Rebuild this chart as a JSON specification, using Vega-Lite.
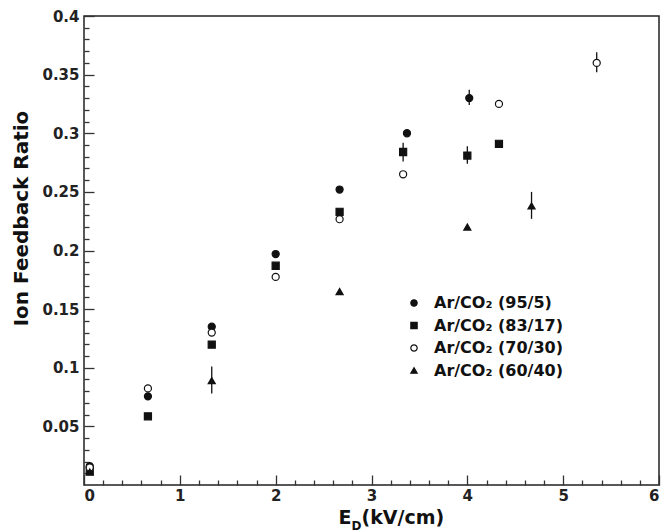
{
  "$schema": "https://vega.github.io/schema/vega-lite/v6.json",
  "width": 575,
  "height": 469,
  "autosize": {"type": "none"},
  "padding": {"left": 84, "top": 16, "right": 2, "bottom": 47},
  "background": "white",
  "config": {
    "view": {"stroke": "#222", "strokeWidth": 1.5},
    "font": "DejaVu Sans",
    "axis": {"grid": false, "domain": false, "tickColor": "#333", "tickWidth": 1.3, "labelColor": "#222", "titleColor": "#111", "labelFont": "DejaVu Sans", "titleFont": "DejaVu Sans", "labelFontWeight": "bold", "titleFontWeight": "bold"}
  },
  "data": {
    "values": [
      {"gas": "Ar/CO₂ (95/5)", "x": 0.06, "y": 0.016, "lo": null, "hi": null},
      {"gas": "Ar/CO₂ (95/5)", "x": 0.667, "y": 0.0756, "lo": null, "hi": null},
      {"gas": "Ar/CO₂ (95/5)", "x": 1.333, "y": 0.135, "lo": null, "hi": null},
      {"gas": "Ar/CO₂ (95/5)", "x": 2.0, "y": 0.197, "lo": null, "hi": null},
      {"gas": "Ar/CO₂ (95/5)", "x": 2.667, "y": 0.252, "lo": null, "hi": null},
      {"gas": "Ar/CO₂ (95/5)", "x": 3.37, "y": 0.3, "lo": null, "hi": null},
      {"gas": "Ar/CO₂ (95/5)", "x": 4.02, "y": 0.33, "lo": 0.324, "hi": 0.337},
      {"gas": "Ar/CO₂ (83/17)", "x": 0.06, "y": 0.012, "lo": null, "hi": null},
      {"gas": "Ar/CO₂ (83/17)", "x": 0.667, "y": 0.0586, "lo": null, "hi": null},
      {"gas": "Ar/CO₂ (83/17)", "x": 1.333, "y": 0.1197, "lo": null, "hi": null},
      {"gas": "Ar/CO₂ (83/17)", "x": 2.0, "y": 0.187, "lo": null, "hi": null},
      {"gas": "Ar/CO₂ (83/17)", "x": 2.667, "y": 0.233, "lo": null, "hi": null},
      {"gas": "Ar/CO₂ (83/17)", "x": 3.33, "y": 0.284, "lo": 0.276, "hi": 0.292},
      {"gas": "Ar/CO₂ (83/17)", "x": 4.0, "y": 0.281, "lo": 0.274, "hi": 0.289},
      {"gas": "Ar/CO₂ (83/17)", "x": 4.33, "y": 0.291, "lo": null, "hi": null},
      {"gas": "Ar/CO₂ (70/30)", "x": 0.06, "y": 0.015, "lo": null, "hi": null},
      {"gas": "Ar/CO₂ (70/30)", "x": 0.667, "y": 0.0824, "lo": null, "hi": null},
      {"gas": "Ar/CO₂ (70/30)", "x": 1.333, "y": 0.13, "lo": null, "hi": null},
      {"gas": "Ar/CO₂ (70/30)", "x": 2.0, "y": 0.1775, "lo": null, "hi": null},
      {"gas": "Ar/CO₂ (70/30)", "x": 2.667, "y": 0.2267, "lo": null, "hi": null},
      {"gas": "Ar/CO₂ (70/30)", "x": 3.33, "y": 0.265, "lo": null, "hi": null},
      {"gas": "Ar/CO₂ (70/30)", "x": 4.33, "y": 0.325, "lo": null, "hi": null},
      {"gas": "Ar/CO₂ (70/30)", "x": 5.35, "y": 0.36, "lo": 0.352, "hi": 0.369},
      {"gas": "Ar/CO₂ (60/40)", "x": 0.06, "y": 0.011, "lo": null, "hi": null},
      {"gas": "Ar/CO₂ (60/40)", "x": 1.333, "y": 0.089, "lo": 0.078, "hi": 0.101},
      {"gas": "Ar/CO₂ (60/40)", "x": 2.667, "y": 0.165, "lo": null, "hi": null},
      {"gas": "Ar/CO₂ (60/40)", "x": 4.0, "y": 0.22, "lo": null, "hi": null},
      {"gas": "Ar/CO₂ (60/40)", "x": 4.67, "y": 0.238, "lo": 0.227, "hi": 0.25}
    ]
  },
  "layer": [
    {
      "transform": [{"filter": "datum.lo != null && datum.gas == 'Ar/CO₂ (60/40)'"}],
      "mark": {"type": "rule", "color": "#111", "strokeWidth": 1.3},
      "encoding": {
        "x": {"field": "x", "type": "quantitative", "scale": {"domain": [0, 6], "nice": false},
          "axis": {"orient": "bottom", "values": [0.2,0.4,0.6,0.8,1.2,1.4,1.6,1.8,2.2,2.4,2.6,2.8,3.2,3.4,3.6,3.8,4.2,4.4,4.6,4.8,5.2,5.4,5.6,5.8], "tickSize": -5, "labels": false, "title": "D", "titleFontSize": 12, "titleAlign": "left", "titleBaseline": "alphabetic", "titleX": 267, "titleY": 44}},
        "y": {"field": "lo", "type": "quantitative", "scale": {"domain": [0, 0.4], "nice": false},
          "axis": {"orient": "left", "values": [0.01,0.02,0.03,0.04,0.06,0.07,0.08,0.09,0.11,0.12,0.13,0.14,0.16,0.17,0.18,0.19,0.21,0.22,0.23,0.24,0.26,0.27,0.28,0.29,0.31,0.32,0.33,0.34,0.36,0.37,0.38,0.39], "tickSize": -5, "labels": false, "title": null}},
        "y2": {"field": "hi"}
      }
    },
    {
      "transform": [{"filter": "datum.lo != null && datum.gas != 'Ar/CO₂ (60/40)'"}],
      "mark": {"type": "rule", "color": "#111", "strokeWidth": 1.3},
      "encoding": {
        "x": {"field": "x", "type": "quantitative", "scale": {"domain": [0, 6], "nice": false},
          "axis": {"orient": "bottom", "ticks": false, "labels": false, "title": "(kV/cm)", "titleFontSize": 19, "titleAlign": "left", "titleBaseline": "alphabetic", "titleX": 277, "titleY": 38}},
        "y": {"field": "lo", "type": "quantitative", "scale": {"domain": [0, 0.4], "nice": false}, "axis": null},
        "y2": {"field": "hi"}
      }
    },
    {
      "mark": {"type": "point", "strokeWidth": 1.2, "size": 50, "opacity": 1},
      "encoding": {
        "x": {"field": "x", "type": "quantitative", "scale": {"domain": [0, 6], "nice": false},
          "axis": {"orient": "bottom", "values": [0,1,2,3,4,5,6], "format": "d", "tickSize": -10, "labelPadding": 13, "labelFontSize": 15, "title": "E", "titleFontSize": 19, "titleAlign": "right", "titleBaseline": "alphabetic", "titleX": 267, "titleY": 38}},
        "y": {"field": "y", "type": "quantitative", "scale": {"domain": [0, 0.4], "nice": false},
          "axis": {"orient": "left", "values": [0.05,0.1,0.15,0.2,0.25,0.3,0.35,0.4], "format": "~g", "tickSize": -10, "labelPadding": 15, "labelFontSize": 15, "title": "Ion Feedback Ratio", "titleFontSize": 20, "titleAngle": -90, "titleAlign": "center", "titleBaseline": "middle", "titleX": -63, "titleY": 202}},
        "shape": {"field": "gas", "type": "nominal",
          "scale": {"domain": ["Ar/CO₂ (95/5)", "Ar/CO₂ (83/17)", "Ar/CO₂ (70/30)", "Ar/CO₂ (60/40)"], "range": ["circle", "square", "circle", "triangle-up"]},
          "legend": {"title": null, "orient": "none", "legendX": 322, "legendY": 279, "labelFont": "DejaVu Sans", "labelFontSize": 16, "labelFontWeight": "bold", "labelColor": "#111", "symbolSize": 40, "symbolStrokeWidth": 1.2, "rowPadding": 6.5, "labelOffset": 12}},
        "fill": {"field": "gas", "type": "nominal",
          "scale": {"domain": ["Ar/CO₂ (95/5)", "Ar/CO₂ (83/17)", "Ar/CO₂ (70/30)", "Ar/CO₂ (60/40)"], "range": ["#111", "#111", "white", "#111"]},
          "legend": {"title": null, "orient": "none", "legendX": 322, "legendY": 279, "labelFont": "DejaVu Sans", "labelFontSize": 16, "labelFontWeight": "bold", "labelColor": "#111", "symbolSize": 40, "symbolStrokeWidth": 1.2, "rowPadding": 6.5, "labelOffset": 12}},
        "stroke": {"field": "gas", "type": "nominal",
          "scale": {"domain": ["Ar/CO₂ (95/5)", "Ar/CO₂ (83/17)", "Ar/CO₂ (70/30)", "Ar/CO₂ (60/40)"], "range": ["#111", "#111", "#111", "#111"]},
          "legend": {"title": null, "orient": "none", "legendX": 322, "legendY": 279, "labelFont": "DejaVu Sans", "labelFontSize": 16, "labelFontWeight": "bold", "labelColor": "#111", "symbolSize": 40, "symbolStrokeWidth": 1.2, "rowPadding": 6.5, "labelOffset": 12}}
      }
    }
  ],
  "resolve": {"axis": {"x": "independent", "y": "independent"}}
}
